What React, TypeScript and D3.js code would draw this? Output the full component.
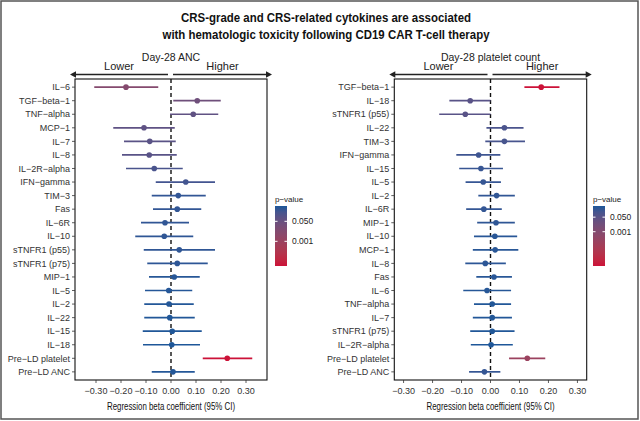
import React from 'react';
import * as d3 from 'd3';

const W = 640;
const H = 421;

const titleLines = [
  'CRS-grade and CRS-related cytokines are associated',
  'with hematologic toxicity following CD19 CAR T-cell therapy',
];

// Day-28 ANC panel
const ancTitle = 'Day-28 ANC';
const ancLabels = ['IL-6', 'TGF-beta-1', 'TNF-alpha', 'MCP-1', 'IL-7', 'IL-8', 'IL-2R-alpha', 'IFN-gamma', 'TIM-3', 'Fas', 'IL-6R', 'IL-10', 'sTNFR1 (p55)', 'sTNFR1 (p75)', 'MIP-1', 'IL-5', 'IL-2', 'IL-22', 'IL-15', 'IL-18', 'Pre-LD platelet', 'Pre-LD ANC'];
const ancEst = [-0.18, 0.105, 0.089, -0.108, -0.085, -0.087, -0.067, 0.059, 0.029, 0.025, -0.024, -0.027, 0.033, 0.025, 0.013, -0.009, -0.008, -0.005, 0.005, 0.003, 0.225, 0.008];
const ancLow = [-0.307, 0.009, -0.004, -0.231, -0.188, -0.196, -0.18, -0.061, -0.077, -0.072, -0.12, -0.143, -0.109, -0.095, -0.088, -0.104, -0.107, -0.107, -0.113, -0.112, 0.127, -0.077];
const ancHigh = [-0.051, 0.199, 0.189, 0.015, 0.019, 0.023, 0.047, 0.176, 0.139, 0.121, 0.072, 0.089, 0.176, 0.147, 0.115, 0.085, 0.091, 0.095, 0.123, 0.116, 0.325, 0.095];
const ancP = [0.006, 0.03, 0.077, 0.085, 0.11, 0.12, 0.25, 0.33, 0.6, 0.6, 0.62, 0.65, 0.65, 0.69, 0.8, 0.85, 0.87, 0.92, 0.93, 0.96, 0.000008, 0.86];

// Day-28 platelet panel
const pltTitle = 'Day-28 platelet count';
const pltLabels = ['TGF-beta-1', 'IL-18', 'sTNFR1 (p55)', 'IL-22', 'TIM-3', 'IFN-gamma', 'IL-15', 'IL-5', 'IL-2', 'IL-6R', 'MIP-1', 'IL-10', 'MCP-1', 'IL-8', 'Fas', 'IL-6', 'TNF-alpha', 'IL-7', 'sTNFR1 (p75)', 'IL-2R-alpha', 'Pre-LD platelet', 'Pre-LD ANC'];
const pltEst = [0.175, -0.07, -0.087, 0.048, 0.048, -0.041, -0.033, -0.025, 0.021, -0.023, 0.019, 0.015, 0.016, -0.018, 0.012, -0.012, 0.006, 0.006, 0.006, 0.002, 0.127, -0.021];
const pltLow = [0.117, -0.142, -0.177, -0.014, -0.018, -0.118, -0.108, -0.086, -0.042, -0.084, -0.046, -0.057, -0.061, -0.087, -0.049, -0.094, -0.057, -0.061, -0.07, -0.068, 0.064, -0.074];
const pltHigh = [0.238, 0.0, 0.0, 0.114, 0.119, 0.034, 0.043, 0.036, 0.084, 0.039, 0.084, 0.092, 0.096, 0.053, 0.074, 0.071, 0.071, 0.074, 0.083, 0.077, 0.189, 0.034];
const pltP = [0.0000001, 0.053, 0.054, 0.14, 0.17, 0.29, 0.39, 0.42, 0.51, 0.46, 0.57, 0.69, 0.69, 0.62, 0.7, 0.77, 0.86, 0.86, 0.88, 0.96, 0.00007, 0.45];

const xTicks = [-0.3, -0.2, -0.1, 0, 0.1, 0.2, 0.3];
const pTicks = [0.05, 0.001];
const xAxisTitle = 'Regression beta coefficient (95% CI)';
const lowerText = 'Lower';
const higherText = 'Higher';
const legendTitle = 'p-value';

const COLOR_LOW = '#cc1238';
const COLOR_HIGH = '#1c5799';
const FONT = 'Liberation Sans, Arial, Helvetica, sans-serif';

const dash = (s: string) => s.replace(/-/g, '\u2212');

type PanelProps = {
  labels: string[];
  est: number[];
  lo: number[];
  hi: number[];
  p: number[];
  x0: number;
  x1: number;
  domain: [number, number];
  title: string;
  cbX: number;
};

function Panel({ labels, est, lo, hi, p, x0, x1, domain, title, cbX }: PanelProps) {
  const y0 = 79;
  const y1 = 380;
  const x = d3.scaleLinear().domain(domain).range([x0, x1]);
  const y = d3.scalePoint<string>().domain(labels).range([y0, y1]).padding(0.6);
  const logExt: [number, number] = [Math.log10(d3.min(p) as number), 0];
  const tScale = d3.scaleLinear().domain(logExt).range([0, 1]).clamp(true);
  const interp = d3.interpolateLab(COLOR_LOW, COLOR_HIGH);
  const col = (pv: number) => interp(tScale(Math.log10(pv)));
  const zx = x(0);

  const cbTop = 206;
  const cbBot = 266;
  const cbW = 12;
  const cbY = d3.scaleLinear().domain(logExt).range([cbBot, cbTop]);
  const gradId = `grad-${Math.round(cbX)}`;
  const stops = d3.range(0, 1.0001, 0.1);

  const arrowY = 74.5;
  const leftStart = x0 - 5;
  const leftEnd = zx - 3;
  const rightStart = zx + 2;
  const rightEnd = x1 + 5;
  const ah = 6;
  const aw = 3.2;

  return (
    <g>
      <defs>
        <linearGradient id={gradId} x1="0" y1="1" x2="0" y2="0">
          {stops.map((s) => (
            <stop key={s} offset={s} stopColor={interp(s)} />
          ))}
        </linearGradient>
      </defs>
      <text x={(leftStart + rightEnd) / 2} y={60.5} textAnchor="middle" fontSize={10.5} fill="#222">
        {title}
      </text>
      <text x={(leftStart + leftEnd) / 2} y={70} textAnchor="middle" fontSize={11} fill="#222">
        {lowerText}
      </text>
      <text x={(rightStart + rightEnd) / 2} y={70} textAnchor="middle" fontSize={11} fill="#222">
        {higherText}
      </text>
      {/* arrows */}
      <line x1={leftStart + ah - 1} x2={leftEnd} y1={arrowY} y2={arrowY} stroke="#222" strokeWidth={1.6} />
      <path d={`M${leftStart},${arrowY} L${leftStart + ah},${arrowY - aw} L${leftStart + ah},${arrowY + aw} Z`} fill="#222" />
      <line x1={rightStart} x2={rightEnd - ah + 1} y1={arrowY} y2={arrowY} stroke="#222" strokeWidth={1.6} />
      <path d={`M${rightEnd},${arrowY} L${rightEnd - ah},${arrowY - aw} L${rightEnd - ah},${arrowY + aw} Z`} fill="#222" />

      {/* zero line */}
      <line x1={zx} x2={zx} y1={y0} y2={y1} stroke="#111" strokeWidth={1.4} strokeDasharray="4,3" />

      {/* CIs and points */}
      {labels.map((lab, i) => {
        const yy = y(lab) as number;
        const c = col(p[i]);
        return (
          <g key={lab}>
            <line x1={x(lo[i])} x2={x(hi[i])} y1={yy} y2={yy} stroke={c} strokeWidth={1.7} />
            <circle cx={x(est[i])} cy={yy} r={2.8} fill={c} />
          </g>
        );
      })}

      {/* frame */}
      <rect x={x0} y={y0} width={x1 - x0} height={y1 - y0} fill="none" stroke="#111" strokeWidth={1.1} />

      {/* y axis */}
      {labels.map((lab) => {
        const yy = y(lab) as number;
        return (
          <g key={'yt' + lab}>
            <line x1={x0 - 3} x2={x0} y1={yy} y2={yy} stroke="#333" strokeWidth={0.8} />
            <text x={x0 - 5} y={yy + 3.2} textAnchor="end" fontSize={9} fill="#333">
              {dash(lab)}
            </text>
          </g>
        );
      })}

      {/* x axis */}
      {xTicks.map((t) => (
        <g key={'xt' + t}>
          <line x1={x(t)} x2={x(t)} y1={y1} y2={y1 + 3} stroke="#333" strokeWidth={0.8} />
          <text x={x(t)} y={393.5} textAnchor="middle" fontSize={9} fill="#333">
            {dash(t.toFixed(2))}
          </text>
        </g>
      ))}
      <text
        x={(x0 + x1) / 2}
        y={410}
        textAnchor="middle"
        fontSize={10.5}
        fill="#111"
        textLength={128}
        lengthAdjust="spacingAndGlyphs"
      >
        {xAxisTitle}
      </text>

      {/* colorbar */}
      <text x={cbX} y={202} fontSize={8} fill="#222">
        {dash(legendTitle)}
      </text>
      <rect x={cbX} y={cbTop} width={cbW} height={cbBot - cbTop} fill={`url(#${gradId})`} />
      {pTicks.map((t) => {
        const yy = cbY(Math.log10(t));
        return (
          <g key={'cb' + t}>
            <line x1={cbX} x2={cbX + 2.5} y1={yy} y2={yy} stroke="#fff" strokeWidth={1} />
            <line x1={cbX + cbW - 2.5} x2={cbX + cbW} y1={yy} y2={yy} stroke="#fff" strokeWidth={1} />
            <text x={cbX + cbW + 5} y={yy + 3} fontSize={8.5} fill="#222">
              {t.toFixed(3)}
            </text>
          </g>
        );
      })}
    </g>
  );
}

export default function App() {
  return (
    <svg
      width={W}
      height={H}
      viewBox={`0 0 ${W} ${H}`}
      style={{ position: 'absolute', left: 0, top: 0, background: '#fff' }}
      fontFamily={FONT}
    >
      <rect x={0} y={0} width={W} height={H} fill="#fff" />
      <rect x={1} y={1} width={637} height={418} fill="none" stroke="#555" strokeWidth={1.5} />
      <text x={326} y={22} textAnchor="middle" fontSize={12.5} fontWeight="bold" fill="#111" textLength={290} lengthAdjust="spacingAndGlyphs">
        {titleLines[0]}
      </text>
      <text x={326} y={39} textAnchor="middle" fontSize={12.5} fontWeight="bold" fill="#111" textLength={327} lengthAdjust="spacingAndGlyphs">
        {titleLines[1]}
      </text>
      <Panel
        labels={ancLabels}
        est={ancEst}
        lo={ancLow}
        hi={ancHigh}
        p={ancP}
        x0={75}
        x1={267}
        domain={[-0.384, 0.384]}
        title={ancTitle}
        cbX={275}
      />
      <Panel
        labels={pltLabels}
        est={pltEst}
        lo={pltLow}
        hi={pltHigh}
        p={pltP}
        x0={394.3}
        x1={586.7}
        domain={[-0.332, 0.332]}
        title={pltTitle}
        cbX={593}
      />
    </svg>
  );
}
